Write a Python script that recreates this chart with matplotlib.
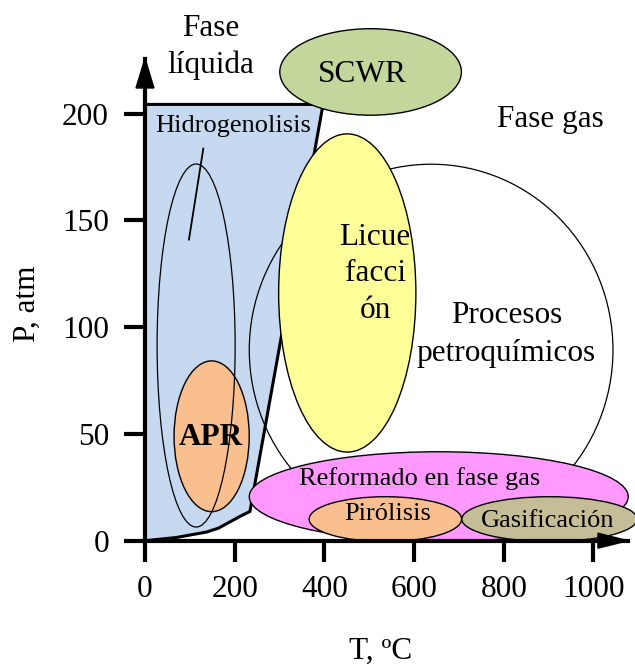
import matplotlib
matplotlib.use("Agg")
import matplotlib.pyplot as plt
from matplotlib.patches import Ellipse, Polygon

plt.rcParams['font.family'] = ['Liberation Serif', 'DejaVu Serif']

# axis ticks
x_ticks = [0, 200, 400, 600, 800, 1000]
y_ticks = [0, 50, 100, 150, 200]

# liquid phase region (T, P)
liq_T = [0, 0, 397, 234, 212, 164, 138, 70, 0]
liq_P = [0, 204.3, 204.3, 13.7, 11.4, 5.9, 4.1, 1.5, 0]

# process regions: (T centre, P centre, T width, P height)
apr = (148.6, 48.9, 167.6, 70.6)
hidro = (114, 91.4, 174, 170)
licue = (451, 116, 306, 149)
petro = (638, 89.3, 811, 174)
reform = (655, 20.6, 845, 42.1)
piro = (536, 10.1, 340, 21.0)
gasif = (902, 10.1, 391, 21.0)
scwr = (503, 219.5, 405, 40.5)

hidro_line_T = [130, 98]
hidro_line_P = [183.6, 141]

fig = plt.figure(figsize=(6.35, 6.66), dpi=100)
ax = fig.add_axes([145 / 635, 125.3 / 666, 483 / 635, 482.2 / 666])
xmax, ymax = 1077, 225.8
ax.set_xlim(0, xmax)
ax.set_ylim(0, ymax)

ax.spines['top'].set_visible(False)
ax.spines['right'].set_visible(False)
for s in ['left', 'bottom']:
    ax.spines[s].set_linewidth(3)
    ax.spines[s].set_zorder(10)

ax.set_xticks(x_ticks)
ax.set_yticks(y_ticks)
ax.tick_params(axis='both', direction='out', width=3, labelsize=22.5)
ax.tick_params(axis='y', length=15, pad=11)
ax.tick_params(axis='x', length=15, pad=10)

# arrow heads
ax.add_patch(Polygon([(-20, ymax - 13.8), (20, ymax - 13.8), (0, ymax)],
                     closed=True, color='black', clip_on=False, zorder=11))
ax.add_patch(Polygon([(xmax - 67, -3.5), (xmax - 67, 3.5), (xmax, 0)],
                     closed=True, color='black', clip_on=False, zorder=11))


def ell(p, fc, z, lw=1.0):
    e = Ellipse((p[0], p[1]), p[2], p[3], facecolor=fc, edgecolor='black',
                lw=lw, zorder=z, clip_on=False)
    ax.add_patch(e)


ax.add_patch(Polygon(list(zip(liq_T, liq_P)), closed=True, facecolor='#C6D9F1',
                     edgecolor='black', lw=2.2, zorder=1, joinstyle='miter'))
ell(apr, '#F9BF8F', 2)
ell(hidro, 'none', 3, 0.9)
ax.plot(hidro_line_T, hidro_line_P, color='black', lw=1.3, zorder=3)
ell(petro, 'none', 3, 0.9)
ell(licue, '#FFFF99', 4)
ell(reform, '#FF99FF', 5)
ell(piro, '#F9BF8F', 6)
ell(gasif, '#C4BD97', 6)
ell(scwr, '#C3D69B', 6)

big = 22.5
small = 19
# multi-line texts: baseline given for the last line
ax.text(147.5, 219, 'Fase\nlíquida', fontsize=big, ha='center', va='baseline',
        multialignment='center', linespacing=1.35)
ax.text(485, 214.7, 'SCWR', fontsize=big, ha='center', va='baseline', zorder=7)
ax.text(903, 193.6, 'Fase gas', fontsize=big, ha='center', va='baseline')
ax.text(197.4, 191.4, 'Hidrogenolisis', fontsize=small, ha='center', va='baseline', zorder=7)
ax.text(147.5, 44.9, 'APR', fontsize=big, fontweight='bold', ha='center',
        va='baseline', zorder=7)
ax.text(513, 104.2, 'Licue\nfacci\nón', fontsize=big, ha='center', va='baseline',
        multialignment='center', linespacing=1.35, zorder=7)
ax.text(805.6, 84.3, 'Procesos\npetroquímicos', fontsize=big, ha='center',
        va='baseline', multialignment='center', linespacing=1.38, zorder=7)
ax.text(613.4, 26.2, 'Reformado en fase gas', fontsize=small, ha='center',
        va='baseline', zorder=7)
ax.text(542, 9.5, 'Pirólisis', fontsize=small, ha='center', va='baseline', zorder=7)
ax.text(897.6, 6.4, 'Gasificación', fontsize=small, ha='center', va='baseline', zorder=7)

fig.text(380.8 / 635, 7 / 666, 'T, ºC', fontsize=big, ha='center', va='baseline')
fig.text(35 / 635, (666 - 304) / 666, 'P, atm', fontsize=big, ha='center',
         va='baseline', rotation=90, rotation_mode='anchor')

fig.savefig('out.png', dpi=100)
